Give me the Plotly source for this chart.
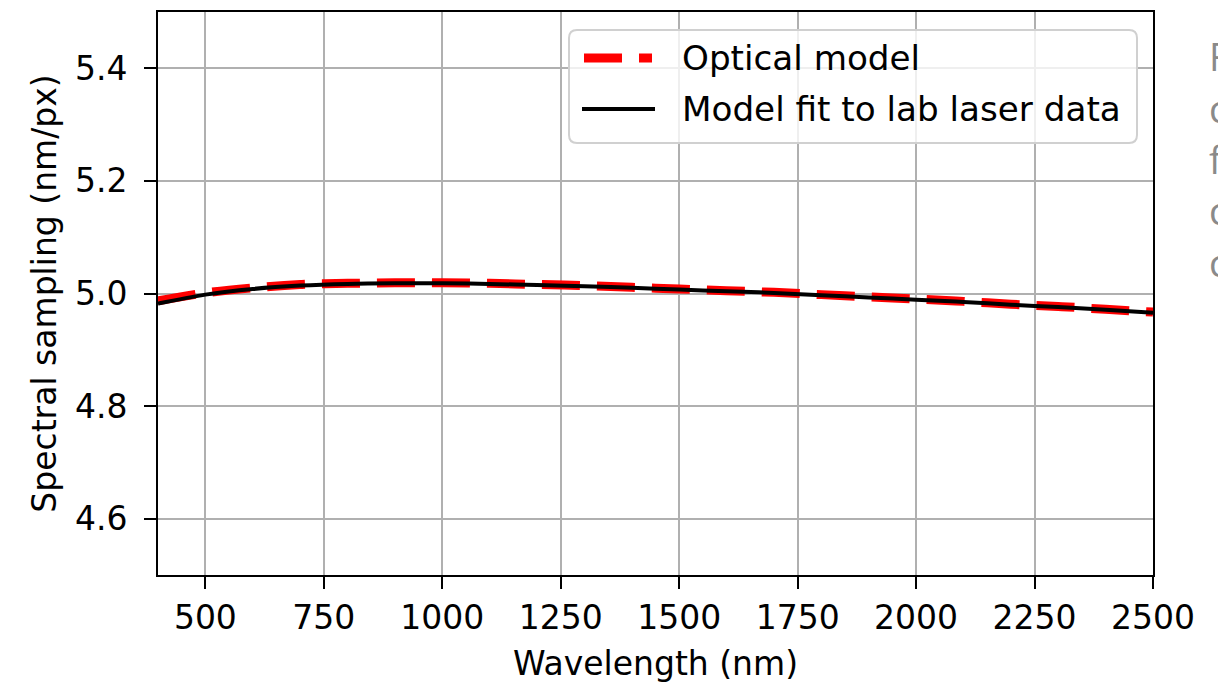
import plotly.graph_objects as go

# Wavelength grid (nm)
wavelength = [400, 500, 600, 700, 800, 900, 1000, 1100, 1200, 1300, 1400,
              1500, 1600, 1700, 1800, 1900, 2000, 2100, 2200, 2300, 2400, 2500]

# Spectral sampling (nm/px) predicted by the optical model
optical_model = [4.987, 5.001, 5.010, 5.016, 5.018, 5.019, 5.019, 5.018, 5.016,
                 5.014, 5.011, 5.008, 5.005, 5.002, 4.998, 4.994, 4.990, 4.986,
                 4.981, 4.977, 4.972, 4.967]

# Spectral sampling (nm/px) from the model fitted to lab laser data
lab_fit = [4.982, 4.998, 5.008, 5.014, 5.017, 5.018, 5.018, 5.017, 5.015,
           5.013, 5.010, 5.007, 5.004, 5.001, 4.997, 4.993, 4.989, 4.985,
           4.980, 4.976, 4.971, 4.966]

x_ticks = [500, 750, 1000, 1250, 1500, 1750, 2000, 2250, 2500]
y_ticks = [4.6, 4.8, 5.0, 5.2, 5.4]

series_names = ["Optical model", "Model fit to lab laser data"]

# Fragment of neighbouring page text, clipped at the right edge
side_text = ["F", "c", "f", "c", "c"]

FONT = "DejaVu Sans"
W, H = 1218, 683
L, R, T, B = 158, 65, 12, 108
PW, PH = W - L - R, H - T - B

RED_LINE = dict(color="#ff0000", width=9, dash="38px,17px")
BLACK_LINE = dict(color="#000000", width=4)


def px(xp):
    """Horizontal pixel position -> paper fraction."""
    return (xp - L) / PW


def py(yp):
    """Vertical pixel position (from top) -> paper fraction."""
    return (H - B - yp) / PH


fig = go.Figure()
fig.add_trace(go.Scatter(
    x=wavelength, y=optical_model, mode="lines", name=series_names[0],
    line=dict(shape="spline", **RED_LINE), showlegend=False,
))
fig.add_trace(go.Scatter(
    x=wavelength, y=lab_fit, mode="lines", name=series_names[1],
    line=dict(shape="spline", **BLACK_LINE), showlegend=False,
))

axis_common = dict(
    showgrid=True, gridcolor="#b0b0b0", gridwidth=2,
    showline=True, linecolor="#000000", linewidth=2, mirror=True,
    ticks="outside", ticklen=12, tickwidth=2, tickcolor="#000000",
    tickfont=dict(family=FONT, size=33, color="#000000"),
    zeroline=False, automargin=False,
)

fig.update_xaxes(
    range=[400, 2500], tickvals=x_ticks, ticktext=[str(v) for v in x_ticks],
    title=dict(text="Wavelength (nm)", font=dict(family=FONT, size=33, color="#000000"), standoff=16),
    **axis_common,
)
fig.update_yaxes(
    range=[4.5, 5.5], tickvals=y_ticks, ticktext=[f"{v:.1f}" for v in y_ticks],
    ticklabelstandoff=10,
    title=dict(text="Spectral sampling (nm/px)", font=dict(family=FONT, size=33, color="#000000"), standoff=8),
    **axis_common,
)

# Legend frame with rounded corners
x0, x1, y0, y1, r = 569, 1137, 30, 143, 8
rx, ry = r / PW, r / PH
X0, X1, Y0, Y1 = px(x0), px(x1), py(y0), py(y1)
frame = (
    f"M {X0 + rx},{Y0} L {X1 - rx},{Y0} Q {X1},{Y0} {X1},{Y0 - ry} "
    f"L {X1},{Y1 + ry} Q {X1},{Y1} {X1 - rx},{Y1} "
    f"L {X0 + rx},{Y1} Q {X0},{Y1} {X0},{Y1 + ry} "
    f"L {X0},{Y0 - ry} Q {X0},{Y0} {X0 + rx},{Y0} Z"
)
fig.add_shape(type="path", path=frame, xref="paper", yref="paper",
              fillcolor="rgba(255,255,255,0.8)",
              line=dict(color="#d0d0d0", width=2), layer="above")

# Legend samples and labels
legend_rows = [(58, RED_LINE, 584, 652), (109, BLACK_LINE, 582, 655)]
for name, (yc, style, xa, xb) in zip(series_names, legend_rows):
    fig.add_shape(type="line", xref="paper", yref="paper",
                  x0=px(xa), x1=px(xb), y0=py(yc), y1=py(yc),
                  line=style, layer="above")
    fig.add_annotation(
        text=name, xref="paper", yref="paper", x=px(680), y=py(yc),
        xanchor="left", yanchor="middle", showarrow=False,
        font=dict(family=FONT, size=34.2, color="#000000"),
    )

for i, ch in enumerate(side_text):
    fig.add_annotation(
        text=ch, xref="paper", yref="paper",
        x=px(1207), y=py(56 + 51.5 * i),
        xanchor="left", yanchor="middle", showarrow=False,
        font=dict(family="Open Sans", size=38, color="#8a8a8a"),
    )

fig.update_layout(
    width=W, height=H,
    margin=dict(l=L, r=R, t=T, b=B),
    paper_bgcolor="#ffffff", plot_bgcolor="#ffffff",
    showlegend=False,
)

fig.write_html("out.html")
